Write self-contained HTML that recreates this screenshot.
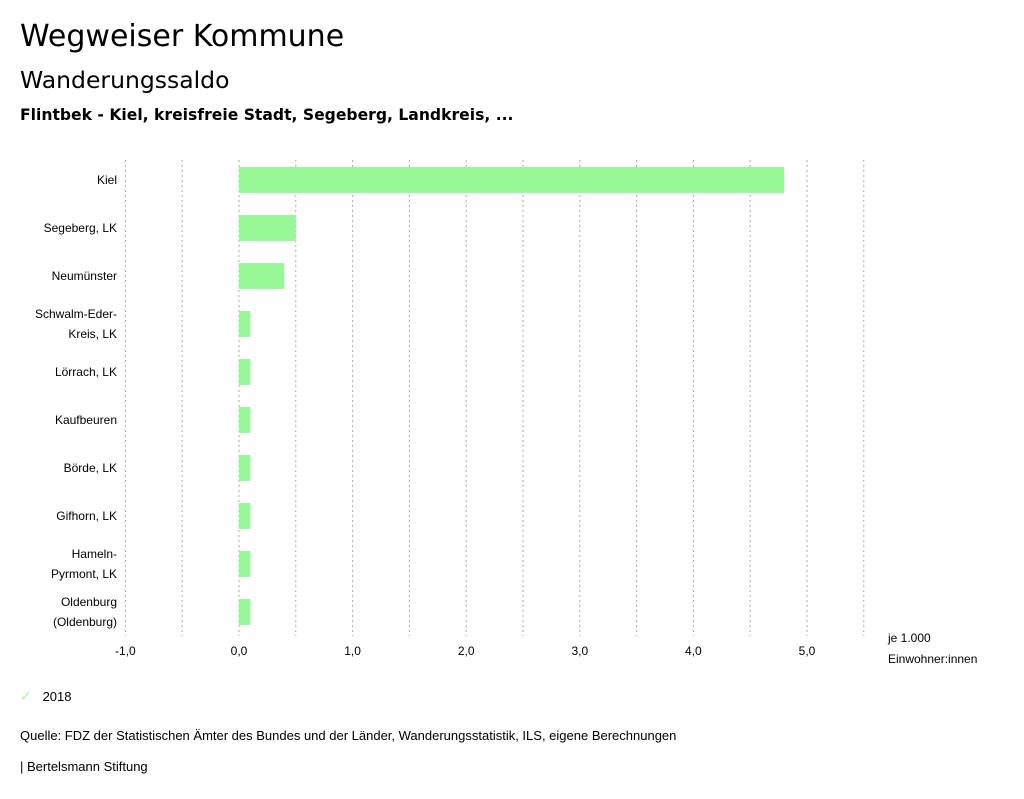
<!DOCTYPE html>
<html><head><meta charset="utf-8"><style>
body{margin:0;width:1024px;height:799px;background:#fff;font-family:"Liberation Sans","DejaVu Sans",sans-serif;color:#000;overflow:hidden}
.t{position:absolute;white-space:nowrap}
</style></head><body>
<div class="t" style="left:20px;top:19px;font-size:30px;font-family:'DejaVu Sans',sans-serif">Wegweiser Kommune</div>
<div class="t" style="left:20px;top:66px;font-size:23.5px;font-family:'DejaVu Sans',sans-serif">Wanderungssaldo</div>
<div class="t" style="left:20px;top:106px;font-size:15.6px;font-weight:bold;font-family:'DejaVu Sans',sans-serif">Flintbek - Kiel, kreisfreie Stadt, Segeberg, Landkreis, ...</div>
<svg id="c" width="1024" height="680" style="position:absolute;left:0;top:0" font-family="Liberation Sans, sans-serif"></svg>
<div class="t" style="left:20px;top:688px;font-size:13px"><span style="color:#98f898;font-size:14px">✓</span>&nbsp;&nbsp;&nbsp;2018</div>
<div class="t" style="left:20px;top:728px;font-size:13px">Quelle: FDZ der Statistischen Ämter des Bundes und der Länder, Wanderungsstatistik, ILS, eigene Berechnungen</div>
<div class="t" style="left:20px;top:759px;font-size:13px">| Bertelsmann Stiftung</div>
<script>
const categories=[["Kiel"],["Segeberg, LK"],["Neumünster"],["Schwalm-Eder-","Kreis, LK"],["Lörrach, LK"],["Kaufbeuren"],["Börde, LK"],["Gifhorn, LK"],["Hameln-","Pyrmont, LK"],["Oldenburg","(Oldenburg)"]];
const values=[4.8,0.5,0.4,0.1,0.1,0.1,0.1,0.1,0.1,0.1];
const ticks=[-1,0,1,2,3,4,5];
const tickLabels=["-1,0","0,0","1,0","2,0","3,0","4,0","5,0"];
const NS="http://www.w3.org/2000/svg",svg=document.getElementById('c');
const x=v=>239+(v)*113.6, top0=156, step=48;
const y=i=>top0+step*i+24;
function mk(t,a){const e=document.createElementNS(NS,t);for(const k in a)e.setAttribute(k,a[k]);svg.appendChild(e);return e;}
for(let g=-1;g<=5.5;g+=0.5){const l=mk('line',{x1:x(g),x2:x(g),y1:160,y2:636,stroke:'#aaa','stroke-width':1,'stroke-dasharray':'2,3'});

}
ticks.forEach((t,i)=>{const e=mk('text',{x:x(t),y:655,'font-size':12,'text-anchor':'middle'});e.textContent=tickLabels[i];

});
values.forEach((v,i)=>{const r=mk('rect',{x:Math.min(x(0),x(v)),y:y(i)-13,width:Math.abs(x(v)-x(0)),height:26,fill:'#98f898'});


const c=categories[i];c.forEach((s,j)=>{const e=mk('text',{x:117,y:y(i)+4+(c.length>1?(j-0.5)*20:0),'font-size':12,'text-anchor':'end'});e.textContent=s;

});});
[["je 1.000",642],["Einwohner:innen",663]].forEach(a=>{const e=mk('text',{x:888,y:a[1],'font-size':12});e.textContent=a[0];

});
</script>
</body></html>
